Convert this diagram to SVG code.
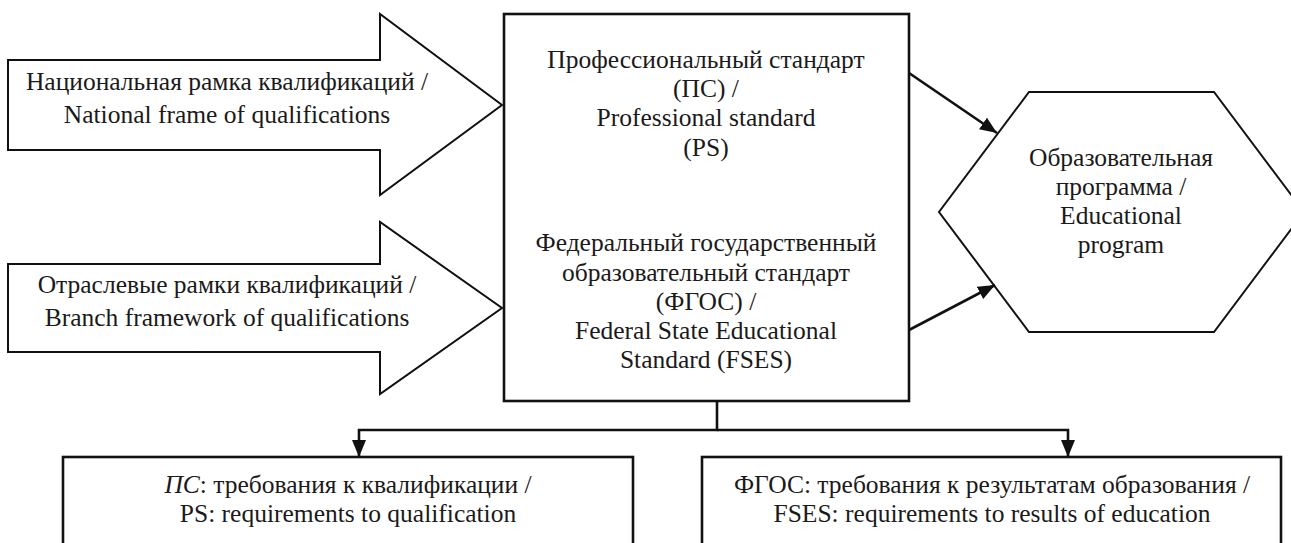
<svg xmlns="http://www.w3.org/2000/svg" width="1291" height="543" viewBox="0 0 1291 543">
  <style>
    text { font-family: 'Liberation Serif', 'DejaVu Serif', 'Times New Roman', serif; font-size: 25.5px; fill: #1a1a1a; text-anchor: middle; }
    .shape { fill: #ffffff; stroke: #111111; stroke-width: 2; stroke-linejoin: miter; }
    .box { fill: #ffffff; stroke: #111111; stroke-width: 2.6; }
    .conn { fill: none; stroke: #111111; stroke-width: 2.6; }
  </style>
  <defs>
    <marker id="ah" markerUnits="userSpaceOnUse" viewBox="0 0 17 14" refX="17" refY="7" markerWidth="17" markerHeight="14" orient="auto">
      <path d="M0,0 L17,7 L0,14 z" fill="#111111"/>
    </marker>
  </defs>
  <rect width="1291" height="543" fill="#ffffff"/>

  <g id="national-frame" font-family="Liberation Serif, DejaVu Serif, serif">
    <polygon class="shape" points="8,60 380,60 380,14 502,105 380,195 380,150 8,150"/>
    <text x="227" y="90">Национальная рамка квалификаций /</text>
    <text x="227" y="123">National frame of qualifications</text>
  </g>

  <g id="branch-frames" font-family="Liberation Serif, DejaVu Serif, serif">
    <polygon class="shape" points="8,264 380,264 380,222 502,308 380,394 380,352 8,352"/>
    <text x="227" y="293">Отраслевые рамки квалификаций /</text>
    <text x="227" y="326">Branch framework of qualifications</text>
  </g>

  <g id="standards" font-family="Liberation Serif, DejaVu Serif, serif">
    <rect class="box" x="504" y="14" width="405" height="387"/>
    <text x="706" y="68">Профессиональный стандарт</text>
    <text x="706" y="97">(ПС) /</text>
    <text x="706" y="126">Professional standard</text>
    <text x="706" y="156">(PS)</text>
    <text x="706" y="251">Федеральный государственный</text>
    <text x="706" y="281">образовательный стандарт</text>
    <text x="706" y="310">(ФГОС) /</text>
    <text x="706" y="339">Federal State Educational</text>
    <text x="706" y="368">Standard (FSES)</text>
  </g>

  <g id="educational-program" font-family="Liberation Serif, DejaVu Serif, serif">
    <polygon class="shape" points="1029,92 1214,92 1304,212 1214,332 1029,332 939,212"/>
    <text x="1121" y="166">Образовательная</text>
    <text x="1121" y="195">программа /</text>
    <text x="1121" y="224">Educational</text>
    <text x="1121" y="253">program</text>
  </g>

  <g id="ps-requirements" font-family="Liberation Serif, DejaVu Serif, serif">
    <rect class="box" x="63" y="457" width="570" height="110"/>
    <text x="348" y="493"><tspan font-style="italic">ПС</tspan>: требования к квалификации /</text>
    <text x="348" y="522">PS: requirements to qualification</text>
  </g>

  <g id="fses-requirements" font-family="Liberation Serif, DejaVu Serif, serif">
    <rect class="box" x="702" y="457" width="579" height="110"/>
    <text x="992" y="493">ФГОС: требования к результатам образования /</text>
    <text x="992" y="522">FSES: requirements to results of education</text>
  </g>

  <g id="connectors">
    <line class="conn" x1="909" y1="73" x2="997" y2="133" marker-end="url(#ah)"/>
    <line class="conn" x1="909" y1="330" x2="995" y2="285" marker-end="url(#ah)"/>
    <path class="conn" d="M717,401 V430 H359 V457" marker-end="url(#ah)"/>
    <path class="conn" d="M717,430 H1068 V457" marker-end="url(#ah)"/>
  </g>
</svg>
